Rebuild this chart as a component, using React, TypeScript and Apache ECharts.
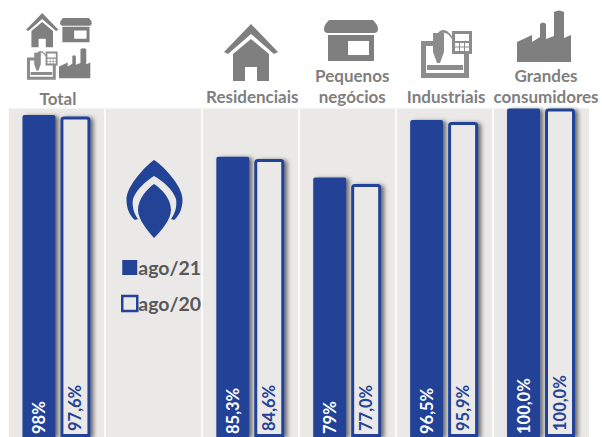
import React, { useEffect, useRef } from "react";
import * as echarts from "echarts";

const categories = ["Total", "", "Residenciais", "Pequenos\nnegócios", "Industriais", "Grandes\nconsumidores"];
const seriesNames = ["ago/21", "ago/20"];
const values21: (number | null)[] = [98, null, 85.3, 79, 96.5, 100];
const values20: (number | null)[] = [97.6, null, 84.6, 77, 95.9, 100];
const labels21 = ["98%", "", "85,3%", "79%", "96,5%", "100,0%"];
const labels20 = ["97,6%", "", "84,6%", "77,0%", "95,9%", "100,0%"];
const labelNudges = [3, 0, 4, 10, 4, 10];

const BLUE = "#234397";
const PANEL = "#ebe9e8";
const GREY = "#7f7f7f";

const house = "M27 0 L54 28 L50 30 L27 10 L4 30 L0 28 Z M27 15 L45 30 L45 57 L33 57 L33 43 L21 43 L21 57 L9 57 L9 30 Z";
const store = "M5 0 L49 0 Q54 5 54 9 Q54 13 50 13 L4 13 Q0 13 0 9 Q0 5 5 0 Z M4 15 L4 41 L50 41 L50 15 Z M24 21 L45 21 L45 35 L24 35 Z";
const factory = "M0 52 L54 52 L54 25 L47 28 L47 2 Q42 -1 37 2 L37 26 L29 29 L29 14 Q26 11 23 14 L23 27 L15 32 L15 25 L0 32 Z M6 40 L6 45 L10 45 L10 40 Z M16 40 L16 45 L20 45 L20 40 Z M26 40 L26 45 L30 45 L30 40 Z M35 40 L35 45 L39 45 L39 40 Z";
const machine = "M0 11 L15 11 L15 16 L5 16 L5 43 L43 43 L43 22 L48 22 L48 48 L0 48 Z M6 35 L42 35 L42 40 L6 40 Z M12 3 L23 3 L23 22 L19 33 L16 33 L12 22 Z M17 3 Q20 -2 26 1 Q30 4 32 8 L31 9 Q27 3 24 3 Q21 2 19 4 Z M31 1 L51 1 L51 24 L31 24 Z M34 4 L34 11 L48 11 L48 4 Z M34 13 L34 21 L48 21 L48 13 Z M38 13 L39 13 L39 21 L38 21 Z M43 13 L44 13 L44 21 L43 21 Z M34 16.5 L48 16.5 L48 17.5 L34 17.5 Z";
const flameOuter = "M28 0 C34 3 57 25 56.5 40 C56.5 50 52 57 48 60 L45 59 C50 52 51 45 50 39 C47 30 37 21 28 16 C20 21 10 30 7 39 C6 45 7 52 12 59 L9 60 C5 57 0.5 50 0.5 40 C0 25 23 3 28 0 Z";
const flameInner = "M28 24 C36 29 45 39 45 50 C45 60 34 72 28 78 C23 72 12 60 12 50 C12 39 21 29 28 24 Z";

echarts.graphic.registerShape("iconHouse", echarts.graphic.extendPath(house, {}));
echarts.graphic.registerShape("iconStore", echarts.graphic.extendPath(store, {}));
echarts.graphic.registerShape("iconFactory", echarts.graphic.extendPath(factory, {}));
echarts.graphic.registerShape("iconMachine", echarts.graphic.extendPath(machine, {}));
echarts.graphic.registerShape("flameOuter", echarts.graphic.extendPath(flameOuter, {}));
echarts.graphic.registerShape("flameInner", echarts.graphic.extendPath(flameInner, {}));

const icon = (type: string, x: number, y: number, s: number, fill = GREY) => ({
  type, x, y, scaleX: s, scaleY: s, silent: true, z: 10, style: { fill },
});

const labelOf = (list: string[], color: string, nudge: number) => ({
  show: true,
  position: "insideBottom",
  rotate: 90,
  align: "left",
  verticalAlign: "middle",
  distance: 3,
  offset: [nudge, 0],
  color,
  fontFamily: "Lato",
  fontWeight: "bold",
  fontSize: 16.5,
  formatter: (p: any) => list[p.dataIndex],
});

export default function App() {
  const ref = useRef<HTMLDivElement>(null);
  useEffect(() => {
    const chart = echarts.init(ref.current!, undefined, { renderer: "svg" });
    const shadow = { shadowColor: "rgba(0,0,0,0.55)", shadowBlur: 4, shadowOffsetX: 3, shadowOffsetY: 1 };
    chart.setOption({
      animation: false,
      backgroundColor: "#ffffff",
      grid: { left: 8, width: 581.5, top: 108.5, height: 330, show: true, backgroundColor: PANEL, borderWidth: 0 },
      legend: {
        left: 121,
        top: 257.5,
        padding: 0,
        orient: "vertical",
        itemWidth: 15,
        itemHeight: 15,
        itemGap: 16,
        data: [
          { name: seriesNames[0], icon: "rect", itemStyle: { color: BLUE, borderWidth: 0, shadowBlur: 0, shadowOffsetX: 0, shadowOffsetY: 0 } },
          { name: seriesNames[1], icon: "rect", itemStyle: { color: PANEL, borderColor: BLUE, borderWidth: 2.5, shadowBlur: 0, shadowOffsetX: 0, shadowOffsetY: 0 } },
        ],
        textStyle: { color: "#595959", fontFamily: "Lato", fontWeight: "bold", fontSize: 19.5, padding: [0, 0, 0, -4] },
      },
      xAxis: {
        type: "category",
        position: "top",
        data: categories.map((value, i) => ({
          value,
          textStyle: { padding: [0, 0, 0, labelNudges[i]], lineHeight: i === 0 ? 17 : 21 },
        })),
        axisLine: { show: false },
        axisTick: { show: false },
        splitLine: { show: true, interval: 0, lineStyle: { color: "#ffffff", width: 1.5 } },
        axisLabel: {
          interval: 0,
          margin: 2,
          color: GREY,
          fontFamily: "Lato",
          fontWeight: "bold",
          fontSize: 17,
          lineHeight: 21,
          hideOverlap: false,
        },
      },
      yAxis: { type: "value", min: 0, max: 100, show: false },
      series: [
        {
          name: seriesNames[0],
          type: "bar",
          data: values21,
          barWidth: 33,
          barGap: "15%",
          itemStyle: { color: BLUE, borderRadius: [2, 2, 0, 0], ...shadow },
          label: labelOf(labels21, "#ffffff", 0),
        },
        {
          name: seriesNames[1],
          type: "bar",
          data: values20,
          barWidth: 30,
          itemStyle: { color: PANEL, borderColor: BLUE, borderWidth: 3, borderRadius: [2, 2, 0, 0], ...shadow },
          label: labelOf(labels20, BLUE, 3),
        },
      ],
      graphic: [
        icon("iconHouse", 26, 13, 0.6),
        icon("iconStore", 60, 18, 0.59),
        icon("iconMachine", 27, 51, 0.6, "#8c8c8c"),
        icon("iconFactory", 59, 48, 0.58),
        icon("iconHouse", 224, 24, 1),
        icon("iconStore", 324, 20, 1),
        icon("iconMachine", 421, 30, 1, "#8c8c8c"),
        icon("iconFactory", 517, 10, 1),
        icon("flameOuter", 126, 160, 1, BLUE),
        icon("flameInner", 126, 160, 1, BLUE),
      ],
    });
    return () => chart.dispose();
  }, []);
  return <div ref={ref} style={{ position: "fixed", left: 0, top: 0, width: 602, height: 437 }} />;
}
